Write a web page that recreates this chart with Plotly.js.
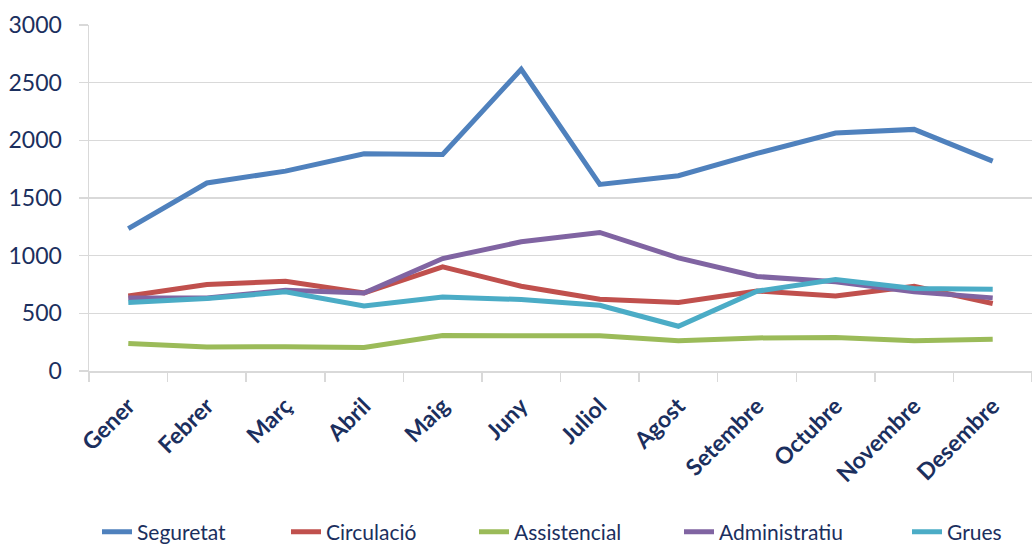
<!DOCTYPE html>
<html>
<head>
<meta charset="utf-8">
<script src="https://cdn.plot.ly/plotly-3.0.1.min.js"></script>
<style>html,body{margin:0;padding:0;background:#fff;}#chart{width:1032px;height:544px;}</style>
</head>
<body>
<div id="chart"></div>
<script>
const months = ["Gener","Febrer","Març","Abril","Maig","Juny","Juliol","Agost","Setembre","Octubre","Novembre","Desembre"];
const seguretat = [1235, 1630, 1733, 1884, 1878, 2616, 1618, 1693, 1887, 2063, 2095, 1820];
const circulacio = [651, 750, 779, 677, 903, 735, 622, 594, 694, 651, 735, 585];
const assistencial = [238, 208, 210, 203, 307, 305, 305, 262, 287, 290, 263, 275];
const administratiu = [634, 632, 700, 677, 975, 1120, 1201, 981, 819, 773, 686, 634];
const grues = [594, 628, 686, 564, 642, 620, 570, 388, 692, 793, 715, 709];
const yTicks = [0, 500, 1000, 1500, 2000, 2500, 3000];

const names = ["Seguretat","Circulació","Assistencial","Administratiu","Grues"];
const colors = ["#4F81BD","#C0504D","#9BBB59","#8064A2","#4BACC6"];
const series = [seguretat, circulacio, assistencial, administratiu, grues];
const legendIds = ["legend","legend2","legend3","legend4","legend5"];
const legendX = [97, 286, 474, 679, 907];

const textColor = "#1B2F5E";

const traces = series.map((s, i) => ({
  type: "scatter", mode: "lines", x: months, y: s, name: names[i],
  line: {color: colors[i], width: 5}, legend: legendIds[i]
}));

const layout = {
  width: 1032, height: 544,
  margin: {l: 89, r: 0, t: 25, b: 173, autoexpand: false},
  paper_bgcolor: "#fff", plot_bgcolor: "#fff",
  font: {family: "Lato, 'Open Sans', sans-serif", color: textColor},
  showlegend: true,
  xaxis: {
    type: "category", range: [-0.5, 11.5], fixedrange: true,
    showgrid: false, showline: true, linecolor: "#D9D9D9", linewidth: 1.5,
    ticks: "outside", tickson: "boundaries", ticklen: 9, tickcolor: "#D9D9D9", tickwidth: 1.5,
    tickangle: -45, ticklabelstandoff: 11,
    tickfont: {size: 23, color: textColor, weight: "bold"}
  },
  yaxis: {
    range: [0, 3000], tickvals: yTicks, ticktext: yTicks.map(String), fixedrange: true,
    showgrid: true, gridcolor: "#D9D9D9", gridwidth: 1.5,
    showline: true, linecolor: "#D9D9D9", linewidth: 1.5,
    ticks: "outside", ticklen: 9, tickcolor: "#D9D9D9", tickwidth: 1.5,
    zeroline: false, ticklabelstandoff: 12,
    tickfont: {size: 23, color: textColor}
  }
};
legendIds.forEach((id, i) => {
  layout[id] = {orientation: "h", xref: "container", yref: "container",
    x: legendX[i] / 1032, xanchor: "left", y: 12 / 544, yanchor: "middle",
    font: {size: 21, color: textColor}, bgcolor: "rgba(0,0,0,0)"};
});
Plotly.newPlot("chart", traces, layout, {displayModeBar: false, staticPlot: true});
</script>
</body>
</html>
